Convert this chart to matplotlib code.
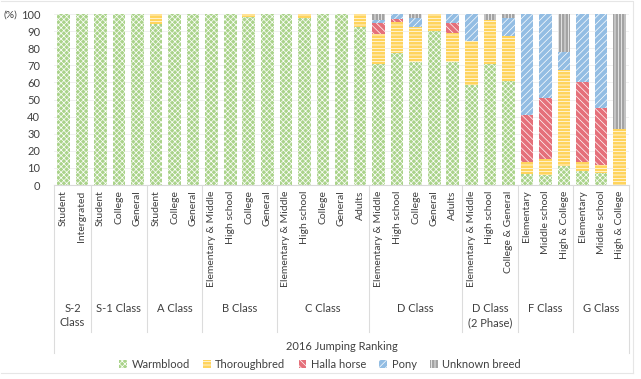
import matplotlib
matplotlib.use("Agg")
import matplotlib.pyplot as plt
import matplotlib.transforms as mtransforms
from matplotlib.patches import Patch
from matplotlib.lines import Line2D
import numpy as np

plt.rcParams['font.family'] = ['Lato', 'DejaVu Sans']
plt.rcParams['hatch.linewidth'] = 0.5

# ---------------- data ----------------
categories = ["Student", "Intergrated",
              "Student", "College", "General",
              "Student", "College", "General",
              "Elementary & Middle", "High school", "College", "General",
              "Elementary & Middle", "High school", "College", "General", "Adults",
              "Elementary & Middle", "High school", "College", "General", "Adults",
              "Elementary & Middle", "High school", "College & General",
              "Elementary", "Middle school", "High & College",
              "Elementary", "Middle school", "High & College"]
groups = ["S-2\nClass", "S-1 Class", "A Class", "B Class", "C Class",
          "D Class", "D Class\n(2 Phase)", "F Class", "G Class"]
group_sizes = [2, 3, 3, 4, 5, 5, 3, 3, 3]

warmblood = [100, 100, 100, 100, 100, 94, 100, 100, 100, 100, 98, 100,
             100, 97.5, 100, 100, 92.5, 71, 77, 72, 90, 72,
             58.5, 71, 61, 6.5, 6, 11, 8, 7, 0]
thoroughbred = [0, 0, 0, 0, 0, 6, 0, 0, 0, 0, 2, 0,
                0, 2.5, 0, 0, 7.5, 17.5, 18.5, 20.5, 10, 17,
                25.5, 25.5, 26, 7, 9, 56, 5.5, 4.5, 33]
halla = [0, 0, 0, 0, 0, 0, 0, 0, 0, 0, 0, 0,
         0, 0, 0, 0, 0, 6, 1.5, 0, 0, 6,
         0, 0, 0, 27.5, 36, 0, 47, 33.5, 0]
pony = [0, 0, 0, 0, 0, 0, 0, 0, 0, 0, 0, 0,
        0, 0, 0, 0, 0, 2, 3, 5, 0, 5,
        16, 0, 10.5, 59, 49, 11, 39.5, 55, 0]
unknown = [0, 0, 0, 0, 0, 0, 0, 0, 0, 0, 0, 0,
           0, 0, 0, 0, 0, 3.5, 0, 2.5, 0, 0,
           0, 3.5, 2.5, 0, 0, 22, 0, 0, 67]

series_names = ["Warmblood", "Thoroughbred", "Halla horse", "Pony", "Unknown breed"]
series_values = [warmblood, thoroughbred, halla, pony, unknown]
colors = ["#aad38a", "#ffd45c", "#e5707a", "#93bde3", "#a3a3a3"]
hatches = ["xxxxxx", "-----", "\\\\\\\\\\", "/////", "|||||"]

# ---------------- figure ----------------
W, H = 641, 379
fig = plt.figure(figsize=(W / 100, H / 100), dpi=100)
ax_left, ax_right, ax_top, ax_bot = 54, 629, 14, 185
ax = fig.add_axes([ax_left / W, 1 - ax_bot / H, (ax_right - ax_left) / W, (ax_bot - ax_top) / H])

x = np.arange(len(categories))
bottom = np.zeros(len(categories))
for name, vals, c, h in zip(series_names, series_values, colors, hatches):
    v = np.array(vals, dtype=float)
    ax.bar(x, v, width=0.68, bottom=bottom, color=c, edgecolor="white",
           hatch=h, linewidth=0, label=name, zorder=2)
    bottom += v

ax.set_xlim(-0.5, len(categories) - 0.5)
ax.set_ylim(0, 100)
ax.set_yticks(np.arange(0, 101, 10))
ax.tick_params(axis='y', length=0, labelsize=8, pad=10, labelcolor="#404040")
ax.tick_params(axis='x', length=0, labelsize=7.5, pad=4, labelcolor="#404040")
ax.set_xticks(x)
ax.set_xticklabels(categories, rotation=90)
ax.grid(axis='y', color="#eeeeee", linewidth=0.6, zorder=0)
for s in ["left", "right", "top"]:
    ax.spines[s].set_visible(False)
ax.spines["bottom"].set_color("#d9d9d9")
ax.spines["bottom"].set_linewidth(0.8)

fig.text(3 / W, 1 - 15 / H, "(%)", fontsize=7.5, color="#404040", va="center", ha="left")

# group separators and labels
trans = mtransforms.blended_transform_factory(ax.transData, fig.transFigure)
edges = np.concatenate([[0], np.cumsum(group_sizes)]) - 0.5
for i, e in enumerate(edges):
    outer = i == 0 or i == len(edges) - 1
    ybot = 353 if outer else 332
    fig.add_artist(Line2D([e, e], [1 - ax_bot / H, 1 - ybot / H], transform=trans,
                          color="#dcdcdc", linewidth=0.8))
for i, g in enumerate(groups):
    cx = (edges[i] + edges[i + 1]) / 2
    fig.text(cx, 1 - 303 / H, g, transform=trans, ha="center", va="top",
             fontsize=8, color="#404040", linespacing=1.35)

fig.text(((ax_left + ax_right) / 2) / W, 1 - 346.5 / H, "2016 Jumping Ranking",
         ha="center", va="center", fontsize=8, color="#404040")

handles = [Patch(facecolor=c, edgecolor="white", hatch=h, linewidth=0, label=n)
           for n, c, h in zip(series_names, colors, hatches)]
fig.legend(handles=handles, loc="center", bbox_to_anchor=(320 / W, 1 - 364.5 / H),
           ncol=5, frameon=False, fontsize=8, handlelength=0.7, handleheight=0.7,
           handletextpad=0.4, columnspacing=1.2, labelcolor="#404040")

# outer light frame
fig.add_artist(Line2D([1 / W, 633 / W, 633 / W], [1 - 1 / H, 1 - 1 / H, 1 - 373 / H],
                      transform=fig.transFigure, color="#e6e6e6", linewidth=0.8))
fig.add_artist(Line2D([1 / W, 633 / W], [1 - 373 / H, 1 - 373 / H],
                      transform=fig.transFigure, color="#e6e6e6", linewidth=0.8))

fig.savefig("out.png", dpi=100)
